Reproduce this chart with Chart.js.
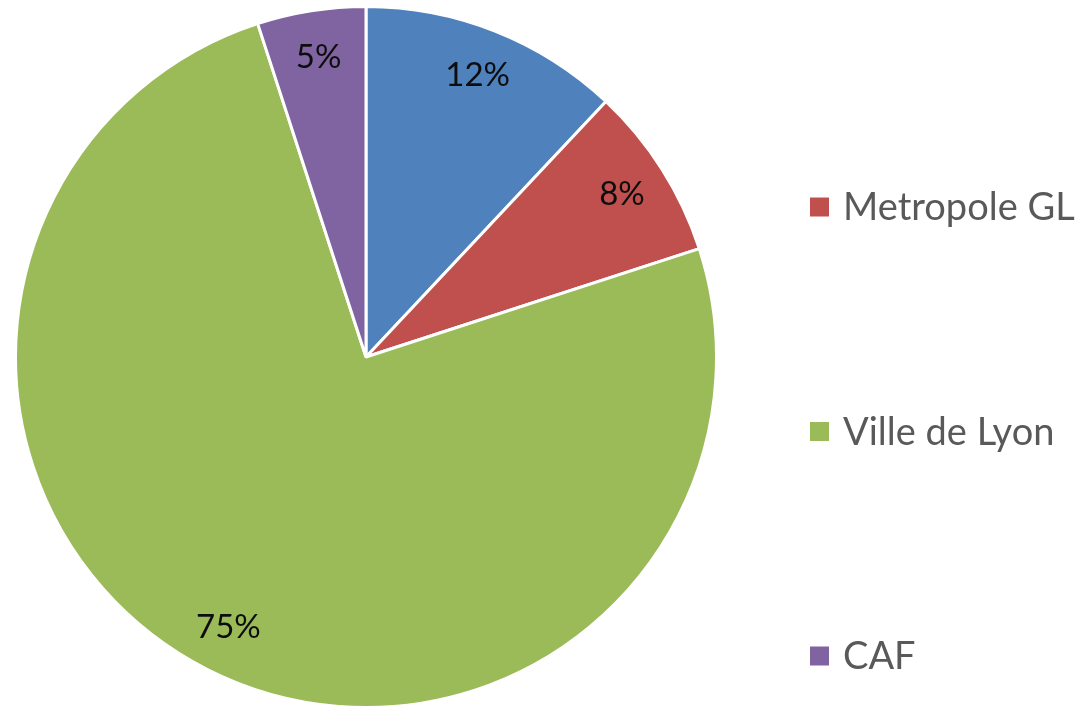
<!DOCTYPE html>
<html>
<head>
<meta charset="utf-8">
<script src="https://cdn.jsdelivr.net/npm/chart.js@4"></script>
<style>
  html, body { margin: 0; padding: 0; background: #fff; }
  #wrap { width: 1092px; height: 712px; }
</style>
</head>
<body>
<div id="wrap"><canvas id="pie"></canvas></div>
<script>
// --- data ---
const labels = ['Etat', 'Metropole GL', 'Ville de Lyon', 'CAF'];
const values = [12, 8, 75, 5];
const colors = ['#4F81BD', '#C0504D', '#9BBB59', '#8064A2'];

// percentage labels inside each slice
const sliceLabels = {
    id: 'sliceLabels',
    afterDatasetsDraw(chart) {
        const ctx = chart.ctx;
        const meta = chart.getDatasetMeta(0);
        const total = values.reduce((a, b) => a + b, 0);
        ctx.save();
        ctx.font = '33px Lato';
        ctx.fillStyle = '#0d0d0d';
        ctx.textAlign = 'center';
        ctx.textBaseline = 'middle';
        meta.data.forEach((arc, i) => {
            const { x, y, startAngle, endAngle, outerRadius } = arc.getProps(['x', 'y', 'startAngle', 'endAngle', 'outerRadius'], true);
            const mid = (startAngle + endAngle) / 2;
            const r = outerRadius * 0.865;
            const pct = Math.round(values[i] / total * 100) + '%';
            ctx.fillText(pct, x + Math.cos(mid) * r, y + Math.sin(mid) * r);
        });
        ctx.restore();
    }
};

// legend on the right, first entry sits above the visible area
const sideLegend = {
    id: 'sideLegend',
    afterDraw(chart) {
        const ctx = chart.ctx;
        const top = -17.5, step = 224.5, box = 19;
        ctx.save();
        ctx.font = '38px Lato';
        ctx.textBaseline = 'middle';
        labels.forEach((name, i) => {
            const cy = top + i * step;
            ctx.fillStyle = colors[i];
            ctx.fillRect(810, cy - box / 2, box, box);
            ctx.fillStyle = '#595959';
            ctx.fillText(name, 843, cy + 1);
        });
        ctx.restore();
    }
};

new Chart(document.getElementById('pie'), {
    type: 'pie',
    data: {
        labels: labels,
        datasets: [{
            data: values,
            backgroundColor: colors,
            borderColor: '#ffffff',
            borderWidth: 3
        }]
    },
    options: {
        responsive: true,
        maintainAspectRatio: false,
        animation: false,
        layout: { padding: { left: 14, right: 374, top: 5, bottom: 3 } },
        plugins: {
            legend: { display: false },
            tooltip: { enabled: false }
        }
    },
    plugins: [sliceLabels, sideLegend]
});
</script>
</body>
</html>
